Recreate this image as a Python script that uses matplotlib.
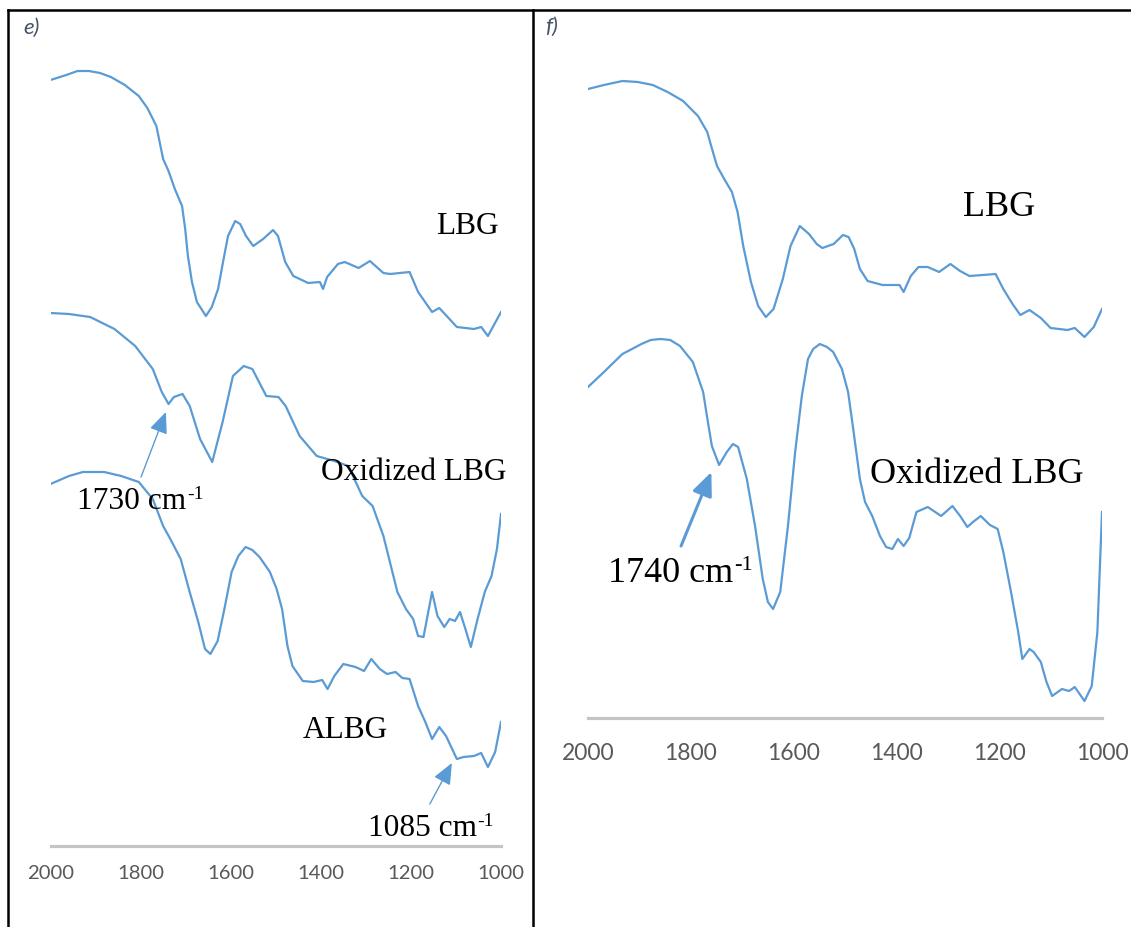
import matplotlib.pyplot as plt
from matplotlib.lines import Line2D

# FTIR spectra, transmittance in arbitrary units
# ---- panel e) ----
e_lbg_wn = [2000, 1965, 1940, 1915, 1890, 1866, 1835, 1804, 1785, 1765, 1750, 1738, 1724,
            1708, 1701, 1695, 1686, 1675, 1655, 1642, 1628, 1617, 1606, 1590, 1579, 1566,
            1550, 1528, 1506, 1495, 1479, 1461, 1428, 1402, 1395, 1386, 1362, 1347,
            1316, 1291, 1261, 1246, 1203, 1184, 1153, 1137, 1098, 1060, 1044, 1029, 1000]
e_lbg_t = [76.6, 77.1, 77.5, 77.5, 77.3, 76.9, 76.1, 75.0, 73.8, 72.0, 68.7, 67.5, 65.7,
           64.0, 61.7, 59.0, 56.4, 54.4, 53.0, 53.9, 55.7, 58.4, 61.0, 62.5, 62.2, 61.0,
           60.0, 60.7, 61.6, 61.0, 58.4, 57.0, 56.3, 56.4, 55.7, 56.9, 58.2, 58.4,
           57.8, 58.5, 57.3, 57.2, 57.4, 55.4, 53.4, 53.8, 51.9, 51.7, 51.9, 51.0, 53.4]

e_ox_wn = [2000, 1959, 1912, 1858, 1812, 1773, 1753, 1738, 1726, 1707, 1691, 1668, 1641,
           1618, 1595, 1571, 1552, 1521, 1494, 1478, 1447, 1409, 1370, 1339, 1308, 1285,
           1261, 1230, 1211, 1195, 1184, 1172, 1153, 1141, 1126, 1114, 1102, 1091, 1079,
           1067, 1052, 1036, 1021, 1009, 1000]
e_ox_t = [53.3, 53.2, 52.9, 51.7, 50.0, 47.7, 45.4, 44.2, 44.9, 45.2, 44.0, 40.7, 38.4,
          42.4, 47.0, 48.0, 47.7, 45.0, 44.9, 44.0, 41.0, 39.0, 38.5, 38.0, 35.0, 34.0,
          31.0, 25.4, 23.7, 22.7, 21.0, 20.9, 25.4, 23.0, 21.9, 22.7, 22.5, 23.4, 21.7,
          19.9, 22.7, 25.4, 27.0, 29.7, 33.2]

e_albg_wn = [2000, 1959, 1928, 1881, 1843, 1804, 1773, 1750, 1734, 1711, 1691, 1672, 1657,
             1645, 1629, 1614, 1598, 1583, 1567, 1552, 1536, 1513, 1498, 1486, 1474, 1463,
             1440, 1416, 1397, 1385, 1370, 1350, 1323, 1304, 1288, 1269, 1253, 1234, 1219,
             1203, 1184, 1168, 1153, 1137, 1122, 1098, 1083, 1060, 1044, 1029, 1013, 1000]
e_albg_t = [36.2, 37.0, 37.4, 37.4, 37.0, 36.4, 34.7, 32.0, 30.7, 28.7, 25.4, 22.4, 19.7,
            19.2, 20.5, 23.7, 27.4, 29.0, 29.9, 29.6, 28.9, 27.4, 25.7, 23.7, 20.0, 18.0,
            16.5, 16.4, 16.6, 15.7, 17.0, 18.2, 17.9, 17.5, 18.7, 17.7, 17.2, 17.4, 16.8,
            16.7, 14.0, 12.4, 10.7, 11.9, 11.0, 8.7, 8.9, 9.0, 9.3, 7.9, 9.4, 12.4]

# ---- panel f) ----
f_lbg_wn = [2000, 1969, 1933, 1903, 1874, 1845, 1815, 1786, 1768, 1757, 1749, 1735, 1720,
            1709, 1698, 1683, 1669, 1654, 1639, 1621, 1606, 1588, 1570, 1555, 1544, 1522,
            1504, 1493, 1482, 1471, 1456, 1427, 1394, 1386, 1372, 1357, 1339, 1317, 1295,
            1276, 1258, 1232, 1207, 1192, 1174, 1159, 1141, 1119, 1100, 1067, 1053, 1034,
            1016, 1000]
f_lbg_t = [62.9, 63.3, 63.7, 63.6, 63.3, 62.6, 61.7, 60.2, 58.6, 56.6, 55.2, 53.9, 52.6,
           50.6, 47.2, 43.6, 41.2, 40.1, 40.9, 43.9, 47.2, 49.2, 48.4, 47.4, 47.0, 47.4,
           48.3, 48.1, 46.9, 44.9, 43.7, 43.3, 43.3, 42.6, 44.2, 45.1, 45.1, 44.6, 45.4,
           44.7, 44.2, 44.3, 44.4, 42.9, 41.4, 40.3, 40.8, 40.0, 39.0, 38.8, 39.0, 38.1,
           39.1, 40.9]

f_ox_wn = [2000, 1969, 1933, 1896, 1878, 1859, 1840, 1821, 1796, 1776, 1768, 1759, 1745,
           1730, 1718, 1708, 1691, 1675, 1660, 1650, 1640, 1626, 1611, 1597, 1584, 1572,
           1562, 1549, 1535, 1523, 1506, 1494, 1484, 1471, 1461, 1447, 1432, 1420, 1408,
           1397, 1386, 1375, 1361, 1339, 1313, 1291, 1276, 1262, 1251, 1236, 1218, 1203,
           1192, 1177, 1163, 1155, 1141, 1133, 1119, 1108, 1097, 1078, 1064, 1053, 1034,
           1020, 1009, 1000]
f_ox_t = [33.1, 34.6, 36.4, 37.4, 37.8, 37.9, 37.8, 37.2, 35.6, 32.6, 30.0, 27.2, 25.3,
          26.6, 27.4, 27.1, 23.9, 19.2, 13.9, 11.6, 10.9, 12.6, 19.2, 26.6, 32.2, 35.9,
          36.9, 37.4, 37.1, 36.6, 34.9, 32.6, 28.9, 23.9, 21.6, 20.2, 18.2, 17.1, 16.9,
          17.9, 17.2, 18.0, 20.6, 21.1, 20.2, 21.2, 20.2, 19.1, 19.6, 20.2, 19.3, 18.9,
          16.6, 12.6, 8.6, 5.9, 6.9, 6.6, 5.6, 3.6, 2.2, 2.9, 2.7, 3.1, 1.7,
          3.2, 8.6, 20.6]

ticks = [2000, 1800, 1600, 1400, 1200, 1000]

blue = '#5B9BD5'
W, H = 1131, 928

fig = plt.figure(figsize=(W / 100, H / 100), dpi=100)


def make_axes(x0, x1, ybase, ytop_val, tick_size, pad):
    ax = fig.add_axes([x0 / W, (H - ybase) / H, (x1 - x0) / W, (ybase - 50) / H])
    ax.set_xlim(2000, 1000)
    ax.set_ylim(0, ytop_val)
    for s in ['top', 'left', 'right']:
        ax.spines[s].set_visible(False)
    ax.spines['bottom'].set_color('#C4C4C4')
    ax.spines['bottom'].set_linewidth(2.3)
    ax.set_yticks([])
    ax.set_xticks(ticks)
    ax.set_xticklabels([str(t) for t in ticks], family='Lato', fontsize=tick_size,
                       color='#595959')
    ax.tick_params(axis='x', length=0, pad=pad)
    ax.patch.set_alpha(0)
    return ax


def label(ax, x, y, s, size, **kw):
    ax.text(x, y, s, family='Liberation Serif', fontsize=size, color='black', **kw)


def wavenumber(ax, x, y, num, size):
    t = ax.text(x, y, num + ' cm', family='Liberation Serif', fontsize=size,
                ha='left', va='baseline')
    ax.annotate('-1', xy=(1, 1), xycoords=t, xytext=(0.5, 1), textcoords='offset points',
                family='Liberation Serif', fontsize=size * 0.62, ha='left', va='top')


def arrow(ax, tail, head, lw, scale):
    ax.annotate('', xy=head, xytext=tail,
                arrowprops=dict(arrowstyle='-|>,head_length=0.65,head_width=0.28',
                                lw=lw, color=blue, shrinkA=0, shrinkB=0,
                                mutation_scale=scale))


# panel e)
ax1 = make_axes(50.5, 501, 847, 79.7, 14.6, 13)
for wn, t in [(e_lbg_wn, e_lbg_t), (e_ox_wn, e_ox_t), (e_albg_wn, e_albg_t)]:
    ax1.plot(wn, t, color=blue, lw=1.6, solid_joinstyle='round')
label(ax1, 1075, 62.1, 'LBG', 22.6, ha='center', va='center')
label(ax1, 1193, 37.4, 'Oxidized LBG', 22.6, ha='center', va='center')
label(ax1, 1346, 11.6, 'ALBG', 22.6, ha='center', va='center')
wavenumber(ax1, 1941, 33.8, '1730', 22.6)
wavenumber(ax1, 1296, 1.1, '1085', 22.6)
arrow(ax1, (1799, 36.9), (1744, 43.4), 1.0, 20)
arrow(ax1, (1158, 4.2), (1109, 8.3), 1.0, 20)

# panel f)
ax2 = make_axes(588, 1102, 719, 66.9, 16.5, 17)
for wn, t in [(f_lbg_wn, f_lbg_t), (f_ox_wn, f_ox_t)]:
    ax2.plot(wn, t, color=blue, lw=1.6, solid_joinstyle='round')
label(ax2, 1200, 51.1, 'LBG', 26, ha='center', va='center')
label(ax2, 1243, 24.4, 'Oxidized LBG', 26, ha='center', va='center')
wavenumber(ax2, 1961, 13.7, '1740', 26)
arrow(ax2, (1819, 17.2), (1760, 24.6), 2.2, 22)

# panel letters
fig.text(23 / W, 1 - 28 / H, 'e)', family='Lato', style='italic', fontsize=16,
         color='#44546A', va='center')
fig.text(545 / W, 1 - 27 / H, 'f)', family='Lato', style='italic', fontsize=16,
         color='#44546A', va='center')

# table borders
ytop = 1 - 11 / H
for line in [Line2D([8 / W, 1], [ytop, ytop]),
             Line2D([8.4 / W, 8.4 / W], [0, ytop]),
             Line2D([533 / W, 533 / W], [0, ytop])]:
    line.set_color('black')
    line.set_linewidth(1.8)
    fig.add_artist(line)

fig.savefig('out.png', dpi=100)
